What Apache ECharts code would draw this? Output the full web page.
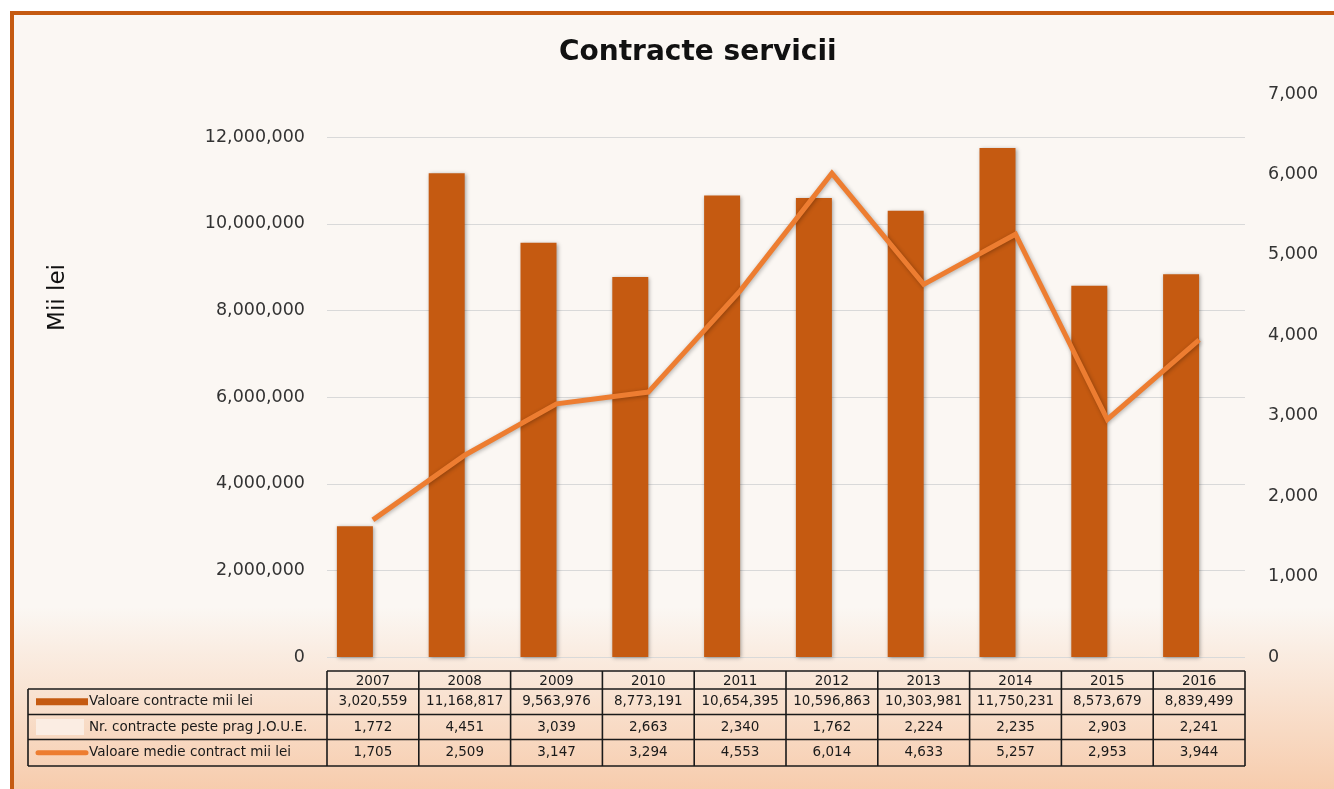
<!DOCTYPE html>
<html>
<head>
    <meta charset="utf-8">
    <title>Contracte servicii</title>
    <script src="https://cdn.jsdelivr.net/npm/echarts@6/dist/echarts.min.js"></script>
    <style>
        body { margin: 0; background: #fff; overflow: hidden; }
        #frame {
            position: absolute; left: 10px; top: 11px;
            width: 1340px; height: 800px;
            border: 4px solid #C55A11;
            background: linear-gradient(to bottom, #FBF7F3 0%, #FBF7F3 74%, #F6C6A3 100%);
        }
        #main { position: absolute; left: 0; top: 0; width: 1334px; height: 789px; }
    </style>
</head>
<body>
    <div id="frame"></div>
    <div id="main"></div>
    <script>
        var years = ['2007', '2008', '2009', '2010', '2011', '2012', '2013', '2014', '2015', '2016'];
        var valoareContracte = [3020559, 11168817, 9563976, 8773191, 10654395, 10596863, 10303981, 11750231, 8573679, 8839499];
        var nrContracte = [1772, 4451, 3039, 2663, 2340, 1762, 2224, 2235, 2903, 2241];
        var valoareMedie = [1705, 2509, 3147, 3294, 4553, 6014, 4633, 5257, 2953, 3944];

        var seriesNames = ['Valoare contracte mii lei', 'Nr. contracte peste prag J.O.U.E.', 'Valoare medie contract mii lei'];
        var rows = [valoareContracte, nrContracte, valoareMedie];

        function fmt(v) { return Number(v).toLocaleString('en-US'); }

        var myChart = echarts.init(document.getElementById('main'));
        var labelFont = { fontFamily: 'DejaVu Sans', fontSize: 17.5, color: '#333' };

        var option = {
            backgroundColor: 'transparent',
            animation: false,
            title: {
                text: 'Contracte servicii',
                left: 554,
                top: 34,
                textStyle: { fontFamily: 'DejaVu Sans', fontWeight: 'bold', fontSize: 28, color: '#111' }
            },
            grid: { left: 327, right: 89, top: 94, bottom: 132 },
            xAxis: {
                type: 'category',
                data: years,
                axisLine: { show: false },
                axisTick: { show: false },
                axisLabel: { show: false }
            },
            yAxis: [{
                type: 'value',
                min: 0, max: 13000000, interval: 2000000,
                name: 'Mii lei',
                nameLocation: 'middle',
                nameRotate: 90,
                nameGap: 257,
                nameTextStyle: { fontFamily: 'DejaVu Sans', fontSize: 23, color: '#111', padding: [0, 0, 0, 156] },
                axisLine: { show: false },
                axisTick: { show: false },
                axisLabel: Object.assign({ margin: 22, showMaxLabel: false, formatter: fmt }, labelFont),
                splitLine: { showMaxLine: false, lineStyle: { color: '#D9D9D9', width: 1 } }
            }, {
                type: 'value',
                min: 0, max: 7000, interval: 1000,
                axisLine: { show: false },
                axisTick: { show: false },
                axisLabel: Object.assign({ margin: 23, formatter: fmt }, labelFont),
                splitLine: { show: false }
            }],
            series: [{
                name: seriesNames[0],
                type: 'bar',
                data: valoareContracte,
                barWidth: 36,
                barGap: '0%',
                itemStyle: { color: '#C55A11', shadowColor: 'rgba(0,0,0,0.35)', shadowBlur: 4, shadowOffsetX: 1, shadowOffsetY: 1 }
            }, {
                name: seriesNames[1],
                type: 'bar',
                data: nrContracte,
                barWidth: 36,
                itemStyle: { color: '#FBE5D6' }
            }, {
                name: seriesNames[2],
                type: 'line',
                yAxisIndex: 1,
                data: valoareMedie,
                showSymbol: false,
                symbol: 'none',
                lineStyle: { color: '#ED7D31', width: 5, join: 'miter', shadowColor: 'rgba(0,0,0,0.3)', shadowBlur: 4, shadowOffsetX: 1, shadowOffsetY: 1 },
                z: 5
            }]
        };

        myChart.setOption(option);

        // data table below the plot, placed from the category axis
        var c0 = myChart.convertToPixel({ xAxisIndex: 0 }, years[0]);
        var c1 = myChart.convertToPixel({ xAxisIndex: 0 }, years[1]);
        var band = c1 - c0;
        var colStart = c0 - band / 2;
        var colEnd = colStart + band * years.length;
        var yZero = myChart.convertToPixel({ yAxisIndex: 0 }, 0);
        var headTop = yZero + 14;
        var rowTops = [headTop + 18, headTop + 43.5, headTop + 68.5, headTop + 95];
        var legLeft = 28;
        var stroke = '#1a1a1a';
        var els = [];

        function line(x1, y1, x2, y2) {
            els.push({ type: 'line', shape: { x1: x1, y1: y1, x2: x2, y2: y2 }, style: { stroke: stroke, lineWidth: 1.6 } });
        }
        function text(t, x, y, align) {
            els.push({ type: 'text', x: x, y: y, style: { text: t, fill: '#1a1a1a', font: '13.5px "DejaVu Sans"', align: align || 'center', verticalAlign: 'middle' } });
        }

        line(colStart, headTop, colEnd, headTop);
        rowTops.forEach(function (y) { line(legLeft, y, colEnd, y); });
        for (var i = 0; i <= years.length; i++) {
            line(colStart + i * band, headTop, colStart + i * band, rowTops[3]);
        }
        line(legLeft, rowTops[0], legLeft, rowTops[3]);

        years.forEach(function (y, i) {
            text(y, colStart + (i + 0.5) * band, (headTop + rowTops[0]) / 2 + 1);
        });
        rows.forEach(function (arr, r) {
            var mid = (rowTops[r] + rowTops[r + 1]) / 2;
            arr.forEach(function (v, i) {
                text(fmt(v), colStart + (i + 0.5) * band, mid);
            });
            text(seriesNames[r], legLeft + 61, mid, 'left');
        });

        // legend keys
        var m0 = (rowTops[0] + rowTops[1]) / 2, m1 = (rowTops[1] + rowTops[2]) / 2, m2 = (rowTops[2] + rowTops[3]) / 2;
        els.push({ type: 'rect', shape: { x: legLeft + 8, y: m0 - 3.5, width: 52, height: 7 }, style: { fill: '#C55A11' } });
        els.push({ type: 'rect', shape: { x: legLeft + 8, y: m1 - 8, width: 48, height: 16 }, style: { fill: '#FBEDE3' } });
        els.push({ type: 'line', shape: { x1: legLeft + 10, y1: m2, x2: legLeft + 58, y2: m2 }, style: { stroke: '#ED7D31', lineWidth: 5, lineCap: 'round' } });

        myChart.setOption({ graphic: { elements: els } });
    </script>
</body>
</html>
